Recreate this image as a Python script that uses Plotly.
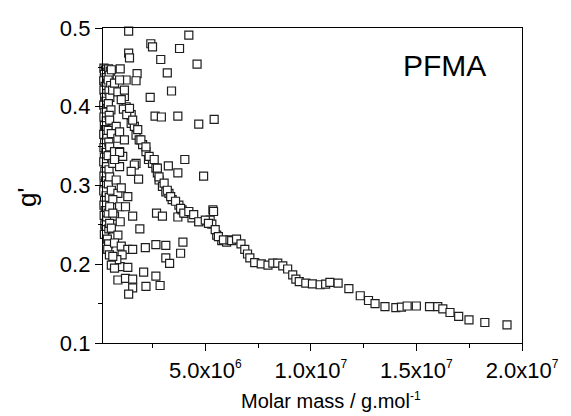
import plotly.graph_objects as go

# ---- data (molar mass in g/mol, g') ----
left_col_x = [2.0e5, 2.8e5, 3.5e5, 2.2e5, 3.0e5, 1.9e5, 3.6e5, 2.5e5, 2.0e5, 3.3e5, 2.3e5, 2.9e5,
              1.9e5, 3.5e5, 2.4e5, 2.0e5, 3.1e5, 2.2e5, 2.7e5, 1.9e5, 3.4e5, 2.3e5, 2.0e5, 2.9e5,
              2.2e5, 1.9e5, 3.2e5, 2.4e5, 2.0e5, 2.8e5, 2.1e5, 1.9e5, 3.0e5, 2.3e5, 2.0e5, 2.6e5,
              2.1e5, 3.3e5, 2.4e5, 2.9e5, 2.2e5, 3.6e5, 4.2e5, 3.8e5, 4.6e5]
left_col_y = [0.449, 0.447, 0.444, 0.441, 0.437, 0.433, 0.430, 0.426, 0.421, 0.417, 0.412, 0.407,
              0.402, 0.398, 0.393, 0.387, 0.382, 0.376, 0.371, 0.365, 0.360, 0.354, 0.348, 0.342,
              0.336, 0.330, 0.324, 0.318, 0.312, 0.306, 0.300, 0.293, 0.287, 0.281, 0.275, 0.268,
              0.262, 0.256, 0.250, 0.244, 0.238, 0.232, 0.226, 0.219, 0.212]

second_col_x = [4.2e5, 5.0e5, 4.5e5, 4.0e5, 5.2e5, 4.4e5, 4.8e5, 4.1e5, 5.3e5, 4.5e5, 4.0e5, 4.3e5,
                4.0e5, 4.4e5, 4.1e5, 4.5e5, 4.0e5, 4.3e5]
second_col_y = [0.448, 0.445, 0.440, 0.434, 0.427, 0.420, 0.412, 0.404, 0.396, 0.389, 0.370, 0.355,
                0.338, 0.320, 0.302, 0.285, 0.265, 0.245]

cluster_x = [4.7e5, 7.8e5, 5.5e5, 8.6e5, 4.7e5, 7.0e5, 1.09e6, 6.2e5, 9.4e5, 4.7e5, 7.8e5, 5.5e5,
             8.6e5, 6.2e5, 4.7e5, 9.4e5, 7.0e5, 4.7e5, 6.1e5, 1.17e6, 1.25e6, 1.49e6, 9.4e5, 1.17e6,
             7.0e5, 1.72e6, 9.4e5]
cluster_y = [0.383, 0.375, 0.366, 0.360, 0.349, 0.343, 0.337, 0.328, 0.324, 0.311, 0.307, 0.294,
             0.290, 0.282, 0.273, 0.273, 0.261, 0.252, 0.421, 0.413, 0.400, 0.390, 0.368, 0.358,
             0.333, 0.328, 0.343]

lower_x = [9.4e5, 1.64e6, 1.84e6, 1.49e6, 7.0e5, 1.02e6, 1.33e6, 1.22e6, 1.56e6, 9.7e5, 6.2e5, 1.90e6,
           5.5e5, 8.6e5, 7.0e5, 1.02e6, 1.33e6, 1.56e6, 2.16e6, 2.66e6, 3.13e6, 3.94e6, 3.83e6, 3.13e6,
           3.31e6, 2.69e6, 2.97e6, 3.70e6, 5.36e6, 1.06e6, 9.7e5, 1.33e6, 8.6e5, 1.22e6, 1.56e6, 1.56e6,
           1.37e6, 2.08e6, 2.19e6, 2.66e6, 2.86e6, 8.1e5, 6.2e5, 5.5e5, 7.0e5]
lower_y = [0.342, 0.326, 0.308, 0.318, 0.333, 0.297, 0.286, 0.273, 0.261, 0.254, 0.265, 0.245,
           0.246, 0.237, 0.227, 0.223, 0.219, 0.219, 0.221, 0.225, 0.224, 0.228, 0.214, 0.208,
           0.201, 0.265, 0.261, 0.260, 0.269, 0.212, 0.197, 0.196, 0.180, 0.182, 0.181, 0.170,
           0.162, 0.190, 0.172, 0.185, 0.173, 0.206, 0.210, 0.199, 0.195]

upper_x = [1.37e6, 4.22e6, 2.42e6, 2.50e6, 3.78e6, 1.37e6, 1.41e6, 2.89e6, 4.61e6, 9.7e5, 1.77e6, 1.72e6,
           1.25e6, 3.20e6, 3.40e6, 2.39e6, 2.62e6, 2.92e6, 3.70e6, 4.69e6, 5.42e6, 4.03e6, 4.92e6, 3.25e6,
           3.70e6]
upper_y = [0.496, 0.491, 0.480, 0.476, 0.474, 0.468, 0.462, 0.460, 0.454, 0.448, 0.442, 0.433,
           0.434, 0.443, 0.420, 0.412, 0.388, 0.387, 0.388, 0.378, 0.384, 0.333, 0.312, 0.325,
           0.316]

curve_a_x = [5.5e5, 9.4e5, 1.17e6, 1.41e6, 1.56e6, 1.80e6, 1.95e6, 2.19e6, 2.34e6, 2.58e6, 2.73e6, 2.81e6,
             3.05e6, 3.20e6, 3.36e6, 3.59e6, 3.83e6, 3.98e6, 4.22e6, 4.45e6, 4.69e6, 5.00e6, 5.15e6, 5.39e6,
             5.47e6, 5.62e6, 5.86e6, 6.17e6]
curve_a_y = [0.447, 0.434, 0.421, 0.398, 0.383, 0.371, 0.358, 0.349, 0.337, 0.333, 0.322, 0.311,
             0.303, 0.294, 0.286, 0.280, 0.271, 0.265, 0.267, 0.263, 0.254, 0.256, 0.252, 0.267,
             0.244, 0.235, 0.231, 0.231]

curve_b_x = [7.0e5, 8.6e5, 1.02e6, 1.12e6, 1.28e6, 1.49e6, 1.64e6, 1.72e6, 1.87e6, 2.03e6, 2.19e6, 2.31e6,
             2.50e6, 2.66e6, 2.73e6, 2.81e6, 2.97e6, 3.13e6, 3.28e6, 3.43e6, 3.75e6, 3.90e6, 4.06e6, 4.37e6,
             4.69e6, 5.23e6, 5.31e6, 5.54e6, 5.78e6, 6.01e6]
curve_b_y = [0.430, 0.419, 0.409, 0.397, 0.390, 0.379, 0.375, 0.364, 0.358, 0.352, 0.343, 0.333,
             0.328, 0.322, 0.316, 0.307, 0.299, 0.292, 0.290, 0.282, 0.275, 0.269, 0.265, 0.259,
             0.254, 0.256, 0.251, 0.237, 0.230, 0.228]

tail_x = [6.25e6, 6.48e6, 6.69e6, 6.87e6, 7.00e6, 7.11e6, 7.34e6, 7.65e6, 7.97e6, 8.20e6, 8.43e6, 8.67e6,
          8.90e6, 9.14e6, 9.29e6, 9.45e6, 9.76e6, 1.0075e7, 1.044e7, 1.07e7, 1.09e7, 1.129e7, 1.18e7, 1.234e7,
          1.273e7, 1.304e7, 1.351e7, 1.4025e7, 1.429e7, 1.456e7, 1.4995e7, 1.562e7, 1.601e7, 1.625e7, 1.659e7,
          1.700e7, 1.749e7, 1.824e7, 1.929e7]
tail_y = [0.230, 0.232, 0.226, 0.219, 0.213, 0.208, 0.202, 0.2005, 0.199, 0.2014, 0.2014, 0.198,
          0.194, 0.1866, 0.181, 0.178, 0.176, 0.175, 0.174, 0.1747, 0.177, 0.176, 0.169, 0.160,
          0.154, 0.150, 0.1463, 0.145, 0.1455, 0.147, 0.147, 0.1463, 0.1463, 0.1434, 0.1387,
          0.1337, 0.1294, 0.126, 0.123]

x_tickvals = [5e6, 1e7, 1.5e7, 2e7]
SUP = "<sup><span style='font-size:12px'>{}</span></sup>"
x_ticktext = ["5.0x10" + SUP.format(6), "1.0x10" + SUP.format(7),
              "1.5x10" + SUP.format(7), "2.0x10" + SUP.format(7)]
y_tickvals = [0.1, 0.2, 0.3, 0.4, 0.5]
y_ticktext = ["0.1", "0.2", "0.3", "0.4", "0.5"]

FONT = "Liberation Sans, Arial, sans-serif"
marker = dict(symbol="square", size=8, color="white", line=dict(color="#1e1e1e", width=1.2))

fig = go.Figure()
for xs, ys in [(left_col_x, left_col_y), (second_col_x, second_col_y), (cluster_x, cluster_y),
               (lower_x, lower_y), (upper_x, upper_y), (curve_b_x, curve_b_y),
               (curve_a_x, curve_a_y), (tail_x, tail_y)]:
    fig.add_trace(go.Scatter(x=xs, y=ys, mode="markers", marker=marker, showlegend=False,
                             cliponaxis=False))

axis_common = dict(showline=True, linecolor="black", linewidth=1.3, mirror=True,
                   ticks="outside", ticklen=7, tickwidth=1.2, tickcolor="black",
                   showgrid=False, zeroline=False,
                   tickfont=dict(family=FONT, size=22, color="black"))

fig.update_xaxes(range=[1.55e5, 2e7], tickvals=x_tickvals, ticktext=x_ticktext,
                 minor=dict(ticks="outside", ticklen=4, tickwidth=1, tickcolor="black",
                            tick0=0, dtick=2.5e6),
                 **axis_common)
fig.update_yaxes(range=[0.1, 0.5], tickvals=y_tickvals, ticktext=y_ticktext,
                 minor=dict(ticks="outside", ticklen=4, tickwidth=1, tickcolor="black",
                            tick0=0.05, dtick=0.1),
                 **axis_common)

# axis titles placed as annotations (paper coords)
fig.add_annotation(x=0.545, y=-0.181, xref="paper", yref="paper",
                   text="Molar mass / g.mol<sup><span style='font-size:12px'>-1</span></sup>",
                   showarrow=False, xanchor="center", yanchor="middle",
                   font=dict(family=FONT, size=20, color="black"))
fig.add_annotation(x=-0.1816, y=0.4635, xref="paper", yref="paper", text="g'",
                   textangle=-90, showarrow=False, xanchor="center", yanchor="middle",
                   font=dict(family=FONT, size=26, color="black"))

fig.add_annotation(x=1.633e7, y=0.453, xref="x", yref="y", text="PFMA", showarrow=False,
                   font=dict(family=FONT, size=30, color="black"))

fig.update_layout(width=571, height=416, margin=dict(l=103, r=44, t=28, b=73),
                  paper_bgcolor="white", plot_bgcolor="white")

fig.write_html("out.html", config={"displayModeBar": False},
               post_script="document.body.style.margin='0px';")
